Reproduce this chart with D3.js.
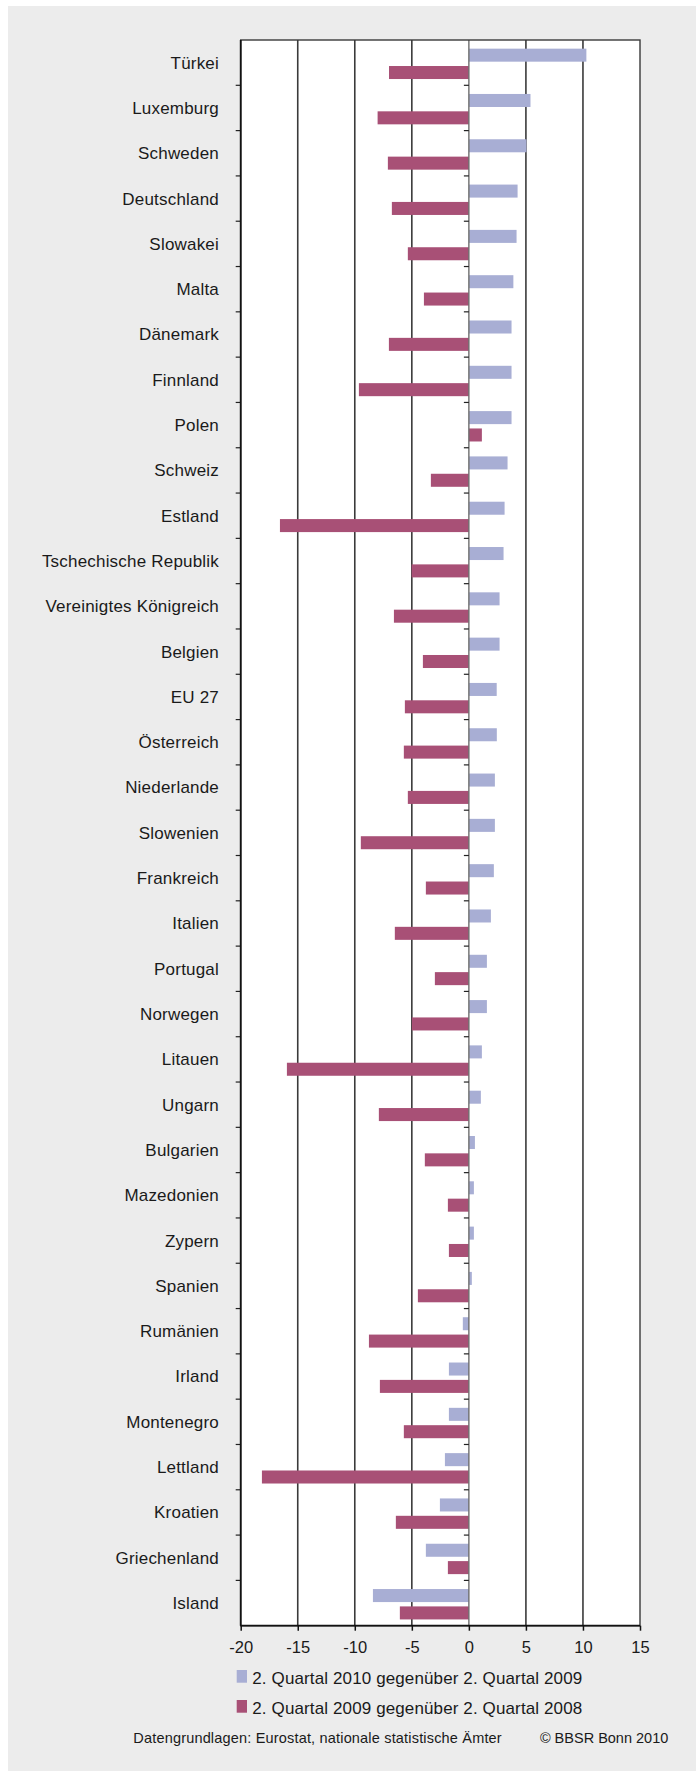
<!DOCTYPE html>
<html>
<head>
<meta charset="utf-8">
<script src="https://cdn.jsdelivr.net/npm/d3@7"></script>
<style>
  html, body { margin: 0; padding: 0; background: #ffffff; }
  svg { display: block; }
  text { font-family: "Liberation Sans", Arial, Helvetica, sans-serif; fill: #1a1a1a; }
</style>
</head>
<body>
<svg id="chart" width="696" height="1771"></svg>
<script>
const categories = ["Türkei","Luxemburg","Schweden","Deutschland","Slowakei","Malta","Dänemark","Finnland","Polen","Schweiz","Estland","Tschechische Republik","Vereinigtes Königreich","Belgien","EU 27","Österreich","Niederlande","Slowenien","Frankreich","Italien","Portugal","Norwegen","Litauen","Ungarn","Bulgarien","Mazedonien","Zypern","Spanien","Rumänien","Irland","Montenegro","Lettland","Kroatien","Griechenland","Island"];

const q2010vs2009 = [10.3,5.4,5.05,4.27,4.18,3.9,3.74,3.74,3.74,3.39,3.13,3.04,2.69,2.69,2.44,2.45,2.28,2.28,2.19,1.93,1.58,1.58,1.14,1.05,0.53,0.44,0.44,0.26,-0.53,-1.75,-1.75,-2.1,-2.54,-3.77,-8.41];

const q2009vs2008 = [-7.0,-8.0,-7.1,-6.75,-5.35,-3.94,-7.01,-9.64,1.14,-3.33,-16.56,-5.02,-6.57,-4.03,-5.61,-5.7,-5.35,-9.47,-3.77,-6.49,-2.98,-5.0,-15.95,-7.89,-3.86,-1.84,-1.75,-4.47,-8.76,-7.8,-5.7,-18.14,-6.4,-1.84,-6.05];

const seriesNames = ["2. Quartal 2010 gegenüber 2. Quartal 2009","2. Quartal 2009 gegenüber 2. Quartal 2008"];
const seriesColors = ["#a8aed4","#a85076"];
const xTicks = [-20,-15,-10,-5,0,5,10,15];
const sourceText = "Datengrundlagen: Eurostat, nationale statistische Ämter";
const copyrightText = "© BBSR Bonn 2010";

const rows = categories.map((c,i) => ({cat: c, vals: [q2010vs2009[i], q2009vs2008[i]]}));

const svg = d3.select("#chart");
const plot = {left: 240.7, right: 640, top: 40, bottom: 1625.7};

// background
svg.append("rect").attr("x", 8).attr("y", 6).attr("width", 688).attr("height", 1765).attr("fill", "#ececec");
svg.append("rect").attr("x", plot.left).attr("y", plot.top)
  .attr("width", plot.right - plot.left).attr("height", plot.bottom - plot.top).attr("fill", "#ffffff");

const x = d3.scaleLinear().domain([-20, 15]).range([plot.left, plot.right]);
const y0 = d3.scaleBand().domain(categories).range([plot.top, plot.bottom]).padding(0);
const y1 = d3.scaleBand().domain([0,1]).range([0, y0.bandwidth()]).paddingInner(0.25).paddingOuter(0.43).align(0.58);

// grid lines
svg.append("g").selectAll("line").data(xTicks.filter(t => t !== 0 && t !== -20 && t !== 15)).join("line")
  .attr("x1", d => x(d)).attr("x2", d => x(d))
  .attr("y1", plot.top).attr("y2", plot.bottom)
  .attr("stroke", "#3a3a3a").attr("stroke-width", 1.6);

// bars
const groups = svg.append("g").selectAll("g").data(rows).join("g")
  .attr("transform", d => `translate(0,${y0(d.cat)})`);
groups.selectAll("rect").data(d => d.vals.map((v,k) => ({v, k}))).join("rect")
  .attr("x", d => x(Math.min(0, d.v)))
  .attr("width", d => Math.abs(x(d.v) - x(0)))
  .attr("y", d => y1(d.k))
  .attr("height", y1.bandwidth())
  .attr("fill", d => seriesColors[d.k]);

// zero line
svg.append("line").attr("x1", x(0)).attr("x2", x(0)).attr("y1", plot.top).attr("y2", plot.bottom)
  .attr("stroke", "#6e6e6e").attr("stroke-width", 1.4);

// ticks at category boundaries
const boundaries = categories.slice(1).map(c => y0(c));
svg.append("g").selectAll("line").data(boundaries).join("line")
  .attr("x1", plot.left - 5).attr("x2", plot.left)
  .attr("y1", d => d).attr("y2", d => d)
  .attr("stroke", "#222").attr("stroke-width", 1.2);
svg.append("g").selectAll("line").data(boundaries).join("line")
  .attr("x1", x(0) - 5).attr("x2", x(0))
  .attr("y1", d => d).attr("y2", d => d)
  .attr("stroke", "#222").attr("stroke-width", 1.2);

// plot frame
svg.append("rect").attr("x", plot.left).attr("y", plot.top)
  .attr("width", plot.right - plot.left).attr("height", plot.bottom - plot.top)
  .attr("fill", "none").attr("stroke", "#3a3a3a").attr("stroke-width", 1.4);
svg.append("line").attr("x1", plot.left).attr("x2", plot.left).attr("y1", plot.top).attr("y2", plot.bottom)
  .attr("stroke", "#111").attr("stroke-width", 1.8);
svg.append("line").attr("x1", plot.left).attr("x2", plot.right).attr("y1", plot.bottom).attr("y2", plot.bottom)
  .attr("stroke", "#111").attr("stroke-width", 1.8);

// x axis
const xAxis = d3.axisBottom(x).tickValues(xTicks).tickSize(5).tickPadding(11).tickFormat(d => String(d));
const gx = svg.append("g").attr("transform", `translate(0,${plot.bottom})`).call(xAxis);
gx.select(".domain").remove();
gx.selectAll(".tick line").attr("stroke", "#111").attr("stroke-width", 1.5);
gx.selectAll(".tick text").attr("font-size", "16.5px").attr("font-family", "'Liberation Sans', Arial, sans-serif").attr("fill", "#1a1a1a");

// category labels
svg.append("g").selectAll("text").data(categories).join("text")
  .attr("x", 219).attr("y", d => y0(d) + y0.bandwidth() / 2)
  .attr("dy", "0.35em").attr("text-anchor", "end")
  .attr("font-size", "17px").attr("letter-spacing", "0.2px").text(d => d);

// legend
const legend = svg.append("g").selectAll("g").data(seriesNames).join("g")
  .attr("transform", (d,i) => `translate(236.7,${1670 + i * 30})`);
legend.append("rect").attr("width", 10.3).attr("height", 12.7).attr("fill", (d,i) => seriesColors[i]);
legend.append("text").attr("x", 15.6).attr("y", 13.5).attr("font-size", "17px").attr("letter-spacing", "0.12px").text(d => d);

// footer
svg.append("text").attr("x", 133.3).attr("y", 1743).attr("font-size", "14.5px").attr("letter-spacing", "0.18px").text(sourceText);
svg.append("text").attr("x", 668.3).attr("y", 1743).attr("font-size", "14.5px").attr("text-anchor", "end").text(copyrightText);
</script>
</body>
</html>
